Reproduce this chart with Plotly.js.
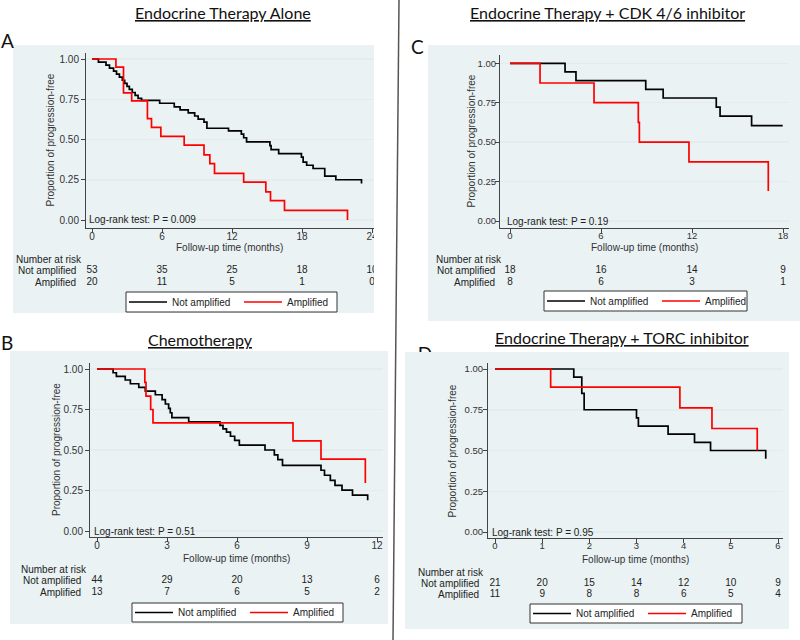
<!DOCTYPE html>
<html><head><meta charset="utf-8">
<script src="https://cdn.plot.ly/plotly-3.0.1.min.js"></script>
<style>html,body{margin:0;padding:0;background:#fff}</style>
</head><body><div id="chart" style="width:800px;height:640px"></div>
<script>
// ---------------- DATA ----------------
const groupNames = ['Not amplified', 'Amplified'];
const yTickVals = [0, 0.25, 0.5, 0.75, 1];

// Panel A: Endocrine Therapy Alone
const aNotTime = [0, 0.55, 1.2, 1.5, 1.85, 2.1, 2.35, 2.6, 2.8, 3.0, 3.2, 3.45, 3.7, 3.95, 4.25, 5.8, 7.05, 7.55, 8.25, 8.8, 9.1, 9.6, 9.85, 11.7, 12.8, 13.0, 13.25, 15.25, 15.35, 16.0, 17.95, 18.1, 18.4, 18.95, 19.95, 20.9, 23.1];
const aNotSurv = [1, .981, .962, .943, .925, .906, .887, .868, .849, .830, .811, .792, .774, .755, .743, .725, .703, .684, .665, .646, .627, .608, .570, .553, .534, .511, .485, .462, .437, .412, .390, .360, .340, .320, .273, .250, .226];
const aAmpTime = [0, 2.05, 2.7, 3.4, 4.75, 5.1, 5.9, 7.9, 9.6, 10.1, 10.5, 13.0, 14.9, 15.3, 16.5, 21.9];
const aAmpSurv = [1, .95, .79, .74, .63, .575, .52, .465, .405, .35, .29, .235, .175, .12, .06, 0];
const aTicks = [0, 6, 12, 18, 24];
const aRiskNot = [53, 35, 25, 18, 10];
const aRiskAmp = [20, 11, 5, 1, 0];
const aPText = 'Log-rank test: P = 0.009';

// Panel B: Chemotherapy
const bNotTime = [0, 0.69, 0.83, 1.21, 1.43, 1.79, 2.07, 2.5, 2.79, 2.93, 3.07, 3.14, 3.21, 3.93, 5.27, 5.4, 5.55, 5.72, 5.9, 6.1, 7.2, 7.6, 7.75, 7.95, 9.6, 9.75, 10.0, 10.2, 10.5, 10.95, 11.6];
const bNotSurv = [1, .977, .955, .932, .909, .886, .864, .841, .811, .784, .757, .73, .70, .674, .652, .63, .61, .585, .56, .53, .50, .47, .44, .405, .375, .344, .313, .282, .252, .221, .19];
const bAmpTime = [0, 2.05, 2.1, 2.3, 2.4, 8.4, 9.6, 11.5];
const bAmpSurv = [1, .917, .833, .75, .667, .556, .444, .296];
const bTicks = [0, 3, 6, 9, 12];
const bRiskNot = [44, 29, 20, 13, 6];
const bRiskAmp = [13, 7, 6, 5, 2];
const bPText = 'Log-rank test: P = 0.51';

// Panel C: Endocrine Therapy + CDK 4/6 inhibitor
const cNotTime = [0, 3.63, 4.35, 8.95, 10.1, 13.6, 13.85, 15.93, 17.98];
const cNotSurv = [1, .945, .89, .835, .78, .722, .665, .605, .605];
const cAmpTime = [0, 1.98, 5.54, 8.46, 8.53, 11.8, 17.03];
const cAmpSurv = [1, .875, .75, .625, .5, .375, .19];
const cTicks = [0, 6, 12, 18];
const cRiskNot = [18, 16, 14, 9];
const cRiskAmp = [8, 6, 3, 1];
const cPText = 'Log-rank test: P = 0.19';

// Panel D: Endocrine Therapy + TORC inhibitor
const dNotTime = [0, 1.67, 1.84, 1.89, 3.0, 3.04, 3.67, 4.23, 4.57, 5.74];
const dNotSurv = [1, .95, .85, .75, .70, .65, .60, .55, .50, .45];
const dAmpTime = [0, 1.18, 3.92, 4.6, 5.56];
const dAmpSurv = [1, .889, .762, .635, .50];
const dTicks = [0, 1, 2, 3, 4, 5, 6];
const dRiskNot = [21, 20, 15, 14, 12, 10, 9];
const dRiskAmp = [11, 9, 8, 8, 6, 5, 4];
const dPText = 'Log-rank test: P = 0.95';

const titles = ['Endocrine Therapy Alone', 'Chemotherapy', 'Endocrine Therapy + CDK 4/6 inhibitor', 'Endocrine Therapy + TORC inhibitor'];
const letters = ['A', 'B', 'C', 'D'];
const xTitle = 'Follow-up time (months)';
const yTitle = 'Proportion of progression-free';
const riskHeader = 'Number at risk';

// ---------------- LAYOUT GEOMETRY (pixels) ----------------
const W = 800, H = 640;
const FONT = 'Liberation Sans, Arial, sans-serif';
const TFONT = 'Lato, Open Sans, sans-serif';
const BG = '#EAF2F3';

const panels = [
  {xa:'x', ya:'y', ra:'y5', lg:'legend', not:[aNotTime,aNotSurv], amp:[aAmpTime,aAmpSurv], ticks:aTicks, rn:aRiskNot, rAmp:aRiskAmp, p:aPText,
   title:titles[0], letter:letters[0], tpos:[223,12], lpos:[7,40], fs:10, ystand:0, pdx:1,
   bg:[13,45,374,313], dom:[86,53,374,228], xcal:[92,372], ycal:[220,59],
   ytitleX:50, xtitleY:248, riskY:[259,270,282], riskHX:14, riskLX:78, leg:[126,292,337,312]},
  {xa:'x2', ya:'y2', ra:'y6', lg:'legend2', not:[bNotTime,bNotSurv], amp:[bAmpTime,bAmpSurv], ticks:bTicks, rn:bRiskNot, rAmp:bRiskAmp, p:bPText,
   title:titles[1], letter:letters[1], tpos:[201,339], lpos:[7,342], fs:10, ystand:0, pdx:2,
   bg:[10,351,388,624], dom:[90,363,383,537], xcal:[97,377], ycal:[531,369],
   ytitleX:56, xtitleY:558, riskY:[569,580,592], riskHX:19, riskLX:83, leg:[132,603,343,622]},
  {xa:'x3', ya:'y3', ra:'y7', lg:'legend3', not:[cNotTime,cNotSurv], amp:[cAmpTime,cAmpSurv], ticks:cTicks, rn:cRiskNot, rAmp:cRiskAmp, p:cPText,
   title:titles[2], letter:letters[2], tpos:[607,12], lpos:[417,46], fs:9.5, ystand:-3, pdx:5,
   bg:[428,45,800,321], dom:[500,55,789,228], xcal:[510,783], ycal:[221,63.3],
   ytitleX:471, xtitleY:248, riskY:[259,270,282], riskHX:434, riskLX:497, leg:[544,291,747,311]},
  {xa:'x4', ya:'y4', ra:'y8', lg:'legend4', not:[dNotTime,dNotSurv], amp:[dAmpTime,dAmpSurv], ticks:dTicks, rn:dRiskNot, rAmp:dRiskAmp, p:dPText,
   title:titles[3], letter:null, tpos:[622,337], lpos:[425,357], fs:9.5, ystand:-2, pdx:2,
   bg:[405,352,789,629], dom:[488,363,783,538], xcal:[495,778], ycal:[532,369],
   ytitleX:452, xtitleY:559, riskY:[572,583,594], riskHX:416, riskLX:481, leg:[530,604,742,623]}
];

const traces = [];
const layout = {
  width: W, height: H, margin:{l:0,r:0,t:0,b:0}, autosize:false,
  paper_bgcolor:'white', plot_bgcolor:'white',
  font:{family:FONT, size:10, color:'#222'},
  shapes:[], annotations:[], showlegend:true
};

panels.forEach((p, i) => {
  const sfx = i === 0 ? '' : String(i+1);
  const [l,t,r,b] = p.dom;
  const t0 = p.ticks[0], t1 = p.ticks[p.ticks.length-1];
  const sx = (p.xcal[1]-p.xcal[0])/(t1-t0);
  const xr = [t0 - (p.xcal[0]-l)/sx, t0 + (r-p.xcal[0])/sx];
  const sy = (p.ycal[0]-p.ycal[1]);
  const yr = [-(b-p.ycal[0])/sy, (p.ycal[0]-t)/sy];

  layout['xaxis'+sfx] = {domain:[l/W, r/W], range:xr, anchor:p.ya, tickvals:p.ticks,
    ticks:'outside', ticklen:4, tickcolor:'#444', showline:true, linecolor:'#444', linewidth:1,
    showgrid:false, zeroline:false, tickfont:{size:p.fs, color:'#333', family:FONT}, ticklabelstandoff:-5, fixedrange:true};
  layout['yaxis'+sfx] = {domain:[1-b/H, 1-t/H], range:yr, anchor:p.xa, tickvals:yTickVals, tickformat:'.2f',
    ticks:'outside', ticklen:4, tickcolor:'#444', showline:true, linecolor:'#444', linewidth:1,
    showgrid:true, gridcolor:'#E3ECEE', gridwidth:1.5, zeroline:false, tickfont:{size:p.fs, color:'#333', family:FONT},
    ticklabelstandoff:p.ystand, fixedrange:true};

  // hidden axis holding the number-at-risk rows under each panel
  const rTop = p.riskY[1]-8, rBot = p.riskY[2]+8;
  const rowY = py => (rBot-py)/(rBot-rTop);
  layout['yaxis'+p.ra.slice(1)] = {domain:[1-rBot/H, 1-rTop/H], range:[0,1], anchor:p.xa, visible:false, fixedrange:true};

  traces.push({x:p.not[0], y:p.not[1], xaxis:p.xa, yaxis:p.ya, type:'scatter', mode:'lines', line:{shape:'hv', color:'#000', width:1.7},
    name:groupNames[0], legend:p.lg, hoverinfo:'skip', cliponaxis:false});
  traces.push({x:p.amp[0], y:p.amp[1], xaxis:p.xa, yaxis:p.ya, type:'scatter', mode:'lines', line:{shape:'hv', color:'#FF0000', width:1.7},
    name:groupNames[1], legend:p.lg, hoverinfo:'skip', cliponaxis:false});
  traces.push({x:p.ticks, y:p.ticks.map(()=>rowY(p.riskY[1])), text:p.rn.map(String), mode:'text', type:'scatter', textposition:'middle center',
    xaxis:p.xa, yaxis:p.ra, showlegend:false, cliponaxis:false, hoverinfo:'skip', textfont:{size:10, color:'#222', family:FONT}});
  traces.push({x:p.ticks, y:p.ticks.map(()=>rowY(p.riskY[2])), text:p.rAmp.map(String), mode:'text', type:'scatter', textposition:'middle center',
    xaxis:p.xa, yaxis:p.ra, showlegend:false, cliponaxis:false, hoverinfo:'skip', textfont:{size:10, color:'#222', family:FONT}});

  // legend box (frame) + plotly legend inside it
  const [lx0, ly0, lx1, ly1] = p.leg;
  layout.shapes.push({type:'rect', xref:'paper', yref:'paper', x0:lx0/W, x1:lx1/W, y0:1-ly1/H, y1:1-ly0/H,
    fillcolor:'white', line:{color:'#333', width:1}, layer:'above'});
  layout[p.lg] = {orientation:'h', x:(lx0-2)/W, y:1-((ly0+ly1)/2)/H, xanchor:'left', yanchor:'middle',
    bgcolor:'rgba(0,0,0,0)', borderwidth:0, font:{size:10, family:FONT, color:'#222'},
    entrywidth:62, itemwidth:38, itemclick:false, itemdoubleclick:false};

  layout.shapes.push({type:'rect', xref:'paper', yref:'paper', x0:p.bg[0]/W, x1:p.bg[2]/W, y0:1-p.bg[3]/H, y1:1-p.bg[1]/H,
    fillcolor:BG, line:{width:0}, layer:'below'});

  layout.annotations.push({xref:'paper', yref:'paper', x:p.tpos[0]/W, y:1-p.tpos[1]/H, text:'<u>'+p.title+'</u>', showarrow:false,
    xanchor:'center', yanchor:'middle', font:{family:TFONT, size:16, color:'#111'}});
  if (p.letter) layout.annotations.push({xref:'paper', yref:'paper', x:p.lpos[0]/W, y:1-p.lpos[1]/H, text:p.letter, showarrow:false,
    xanchor:'center', yanchor:'middle', font:{family:TFONT, size:19, color:'#111'}});
  layout.annotations.push({xref:'paper', yref:'paper', x:p.ytitleX/W, y:1-((t+b)/2)/H, text:yTitle, textangle:-90, showarrow:false,
    xanchor:'center', yanchor:'middle', font:{size:10, color:'#333'}});
  layout.annotations.push({xref:'paper', yref:'paper', x:((l+r)/2)/W, y:1-p.xtitleY/H, text:xTitle, showarrow:false,
    xanchor:'center', yanchor:'middle', font:{size:10, color:'#333'}});
  layout.annotations.push({xref:'paper', yref:p.ya, x:(l+p.pdx)/W, y:0, text:p.p, showarrow:false,
    xanchor:'left', yanchor:'middle', font:{size:10, color:'#222'}});
  layout.annotations.push({xref:'paper', yref:'paper', x:p.riskHX/W, y:1-p.riskY[0]/H, text:riskHeader, showarrow:false,
    xanchor:'left', yanchor:'middle', font:{size:10, color:'#222'}});
  layout.annotations.push({xref:'paper', yref:'paper', x:p.riskLX/W, y:1-p.riskY[1]/H, text:groupNames[0], showarrow:false,
    xanchor:'right', yanchor:'middle', font:{size:10, color:'#222'}});
  layout.annotations.push({xref:'paper', yref:'paper', x:p.riskLX/W, y:1-p.riskY[2]/H, text:groupNames[1], showarrow:false,
    xanchor:'right', yanchor:'middle', font:{size:10, color:'#222'}});
});

// Letter "D": mostly hidden behind panel D's background in the reference.
// Drawn as a text mark on a tiny hidden subplot, then covered by a background-coloured strip.
layout.xaxis9 = {domain:[415/W, 435/W], range:[0,1], anchor:'y9', visible:false, fixedrange:true};
layout.yaxis9 = {domain:[1-366/H, 1-346/H], range:[0,1], anchor:'x9', visible:false, fixedrange:true};
traces.push({x:[0.5], y:[0.5], text:[letters[3]], mode:'text', type:'scatter', textposition:'middle center', xaxis:'x9', yaxis:'y9',
  showlegend:false, cliponaxis:false, hoverinfo:'skip', textfont:{size:19, color:'#111', family:TFONT}});
layout.shapes.push({type:'rect', xref:'paper', yref:'paper', x0:412/W, x1:440/W, y0:1-370/H, y1:1-352/H,
  fillcolor:BG, line:{width:0}, layer:'above'});

// white strip where panel A is cropped, and the slanted divider
layout.shapes.push({type:'rect', xref:'paper', yref:'paper', x0:374/W, x1:397/W, y0:1-316/H, y1:1-40/H,
  fillcolor:'white', line:{width:0}, layer:'above'});
layout.shapes.push({type:'line', xref:'paper', yref:'paper', x0:399/W, y0:1, x1:393/W, y1:0,
  line:{color:'#555', width:1.5}, layer:'above'});

Plotly.newPlot('chart', traces, layout, {staticPlot:true, displayModeBar:false});
</script></body></html>
